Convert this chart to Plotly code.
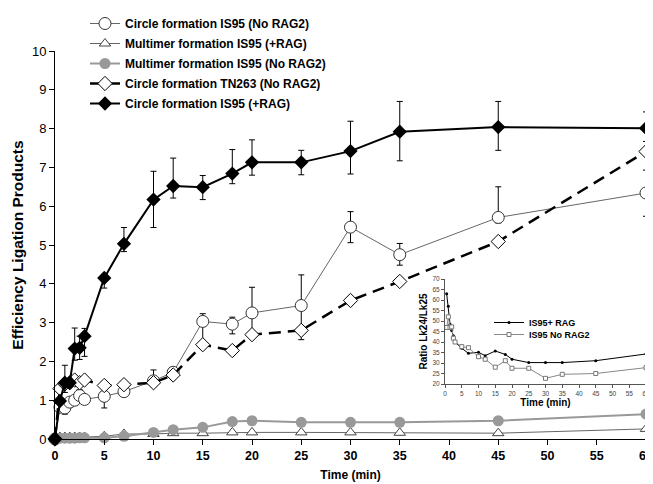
import plotly.graph_objects as go

# ---------------- data ----------------
time_min = [0, 0.5, 1, 1.5, 2, 2.5, 3, 5, 7, 10, 12, 15, 18, 20, 25, 30, 35, 45, 60]

circle_is95_norag = [0, 0.82, 0.80, 0.95, 1.0, 1.12, 1.02, 1.10, 1.22, 1.50, 1.72, 3.03, 2.96, 3.25, 3.44, 5.46, 4.75, 5.71, 6.34]
circle_is95_norag_up = [0, 0.05, 0.05, 0.05, 0.05, 0.15, 0.05, 0.05, 0.05, 0.28, 0.12, 0.20, 0.18, 0.66, 0.79, 0.40, 0.29, 0.79, 0.59]
circle_is95_norag_dn = [0, 0.05, 0.16, 0.05, 0.05, 0.10, 0.05, 0.30, 0.05, 0.15, 0.12, 0.55, 0.25, 0.46, 0.88, 0.40, 0.27, 0.14, 0.60]

multimer_is95_rag = [0, 0.05, 0.05, 0.05, 0.05, 0.05, 0.05, 0.07, 0.13, 0.13, 0.15, 0.15, 0.17, 0.17, 0.17, 0.17, 0.16, 0.15, 0.26]

multimer_is95_norag = [0, 0.02, 0.02, 0.02, 0.02, 0.03, 0.03, 0.03, 0.07, 0.17, 0.24, 0.30, 0.45, 0.47, 0.43, 0.43, 0.43, 0.47, 0.64]

circle_tn263_norag = [0, 1.30, 1.42, 1.45, 1.52, 1.45, 1.52, 1.38, 1.40, 1.45, 1.65, 2.43, 2.28, 2.69, 2.80, 3.57, 4.06, 5.09, 7.41]

circle_is95_rag = [0, 0.98, 1.45, 1.45, 2.33, 2.35, 2.65, 4.15, 5.03, 6.17, 6.52, 6.49, 6.84, 7.13, 7.13, 7.42, 7.92, 8.04, 8.01]
circle_is95_rag_up = [0, 0.05, 0.45, 0.10, 0.53, 0.30, 0.20, 0.08, 0.42, 0.73, 0.72, 0.30, 0.62, 0.58, 0.31, 0.77, 0.78, 0.66, 0.42]
circle_is95_rag_dn = [0, 0.05, 0.25, 0.10, 0.30, 0.30, 0.52, 0.26, 0.20, 0.72, 0.31, 0.32, 0.26, 0.33, 0.32, 0.59, 0.75, 0.60, 0.34]

inset_time = [0.5, 1, 1.5, 2, 2.5, 3, 5, 7, 10, 12, 15, 18, 20, 25, 30, 35, 45, 60]
ratio_is95_rag = [63, 57, 48.5, 45.5, 43, 40, 37, 34.6, 35.1, 33.5, 35.7, 34.1, 31.8, 30.2, 30.2, 30.2, 31.1, 34.3]
ratio_is95_norag = [46.9, 52, 46.9, 47.2, 41.8, 40, 37.8, 37.3, 33, 31.8, 28, 31.1, 27.5, 27.5, 22.7, 24.6, 25, 27.8]

x_ticks = list(range(0, 61, 5))
y_ticks = list(range(0, 11, 1))

FONT = "Liberation Sans, Arial, sans-serif"

# layout geometry (pixels)
W, H = 653, 484
ML, MR, MT, MB = 47, 15, 43, 53
PW, PH = W - ML - MR, H - MT - MB


def px_x(x):
    return (x - ML) / PW


def px_y(y):
    return (H - MB - y) / PH


fig = go.Figure()


def ebar(up, dn):
    return dict(type="data", symmetric=False, array=up, arrayminus=dn,
                color="black", thickness=1, width=3)


fig.add_trace(go.Scatter(
    x=time_min, y=circle_is95_norag, name="Circle formation IS95 (No RAG2)", legend="legend8",
    mode="lines+markers", line=dict(color="#666666", width=1),
    marker=dict(symbol="circle", size=12, color="white", line=dict(color="#333333", width=1)),
    error_y=ebar(circle_is95_norag_up, circle_is95_norag_dn), cliponaxis=False))

fig.add_trace(go.Scatter(
    x=time_min, y=multimer_is95_rag, name="Multimer formation IS95 (+RAG)", legend="legend3",
    mode="lines+markers", line=dict(color="#666666", width=1),
    marker=dict(symbol="triangle-up", size=10, color="white", line=dict(color="#444444", width=1)),
    cliponaxis=False))

fig.add_trace(go.Scatter(
    x=time_min, y=multimer_is95_norag, name="Multimer formation IS95 (No RAG2)", legend="legend4",
    mode="lines+markers", line=dict(color="#999999", width=2),
    marker=dict(symbol="circle", size=11, color="#999999"),
    cliponaxis=False))

fig.add_trace(go.Scatter(
    x=time_min, y=circle_tn263_norag, name="Circle formation TN263 (No RAG2)", legend="legend5",
    mode="lines+markers", line=dict(color="black", width=2.5, dash="12px,7px"),
    marker=dict(symbol="diamond", size=11, color="white", line=dict(color="black", width=1)),
    cliponaxis=False))

fig.add_trace(go.Scatter(
    x=time_min, y=circle_is95_rag, name="Circle formation IS95 (+RAG)", legend="legend6",
    mode="lines+markers", line=dict(color="black", width=2),
    marker=dict(symbol="diamond", size=11, color="black"),
    error_y=ebar(circle_is95_rag_up, circle_is95_rag_dn), cliponaxis=False))

# inset
fig.add_trace(go.Scatter(
    x=inset_time, y=ratio_is95_rag, name="IS95+ RAG", xaxis="x2", yaxis="y2",
    legend="legend2", mode="lines+markers", line=dict(color="black", width=1),
    marker=dict(symbol="circle", size=3, color="black")))
fig.add_trace(go.Scatter(
    x=inset_time, y=ratio_is95_norag, name="IS95 No RAG2", xaxis="x2", yaxis="y2",
    legend="legend7", mode="lines+markers", line=dict(color="#888888", width=1),
    marker=dict(symbol="square", size=4, color="white", line=dict(color="#777777", width=1))))


def main_legend(ytop):
    return dict(x=px_x(77), y=px_y(ytop), xanchor="left", yanchor="top",
                font=dict(size=12, weight="bold"), bgcolor="rgba(0,0,0,0)",
                borderwidth=0)


def inset_legend(ytop):
    return dict(x=px_x(481), y=px_y(ytop), xanchor="left", yanchor="top",
                font=dict(size=9, weight="bold"), bgcolor="rgba(0,0,0,0)",
                borderwidth=0)


fig.update_layout(
    width=W, height=H,
    margin=dict(l=ML, r=MR, t=MT, b=MB, autoexpand=False),
    paper_bgcolor="white", plot_bgcolor="white",
    font=dict(family=FONT, color="black"),
    xaxis=dict(range=[0, 60], tickvals=x_ticks, showline=True, linecolor="black", linewidth=1,
               ticks="outside", ticklen=5, tickcolor="black", showgrid=False, zeroline=False,
               tickfont=dict(size=12.5, family=FONT, weight="bold"), automargin=False,
               title=dict(text="<b>Time (min)</b>", font=dict(size=12), standoff=8)),
    yaxis=dict(range=[0, 10], tickvals=y_ticks, showline=True, linecolor="black", linewidth=1,
               ticks="outside", ticklen=5, tickcolor="black", showgrid=False, zeroline=False,
               tickfont=dict(size=13), automargin=False,
               title=dict(text="<b>Efficiency Ligation Products</b>", font=dict(size=15.5), standoff=4)),
    xaxis2=dict(domain=[px_x(437), 1.0], anchor="y2", range=[0, 60], tickvals=x_ticks,
                showline=True, linecolor="#555555", linewidth=1, ticks="outside", ticklen=3,
                tickcolor="#555555", showgrid=False, zeroline=False, automargin=False,
                tickfont=dict(size=6.5, color="#444444"),
                title=dict(text="<b>Time (min)</b>", font=dict(size=10), standoff=1)),
    yaxis2=dict(domain=[px_y(376), px_y(271)], anchor="x2", range=[20, 70], dtick=5,
                showline=True, linecolor="#555555", linewidth=1, ticks="outside", ticklen=3,
                tickcolor="#555555", showgrid=False, zeroline=False, automargin=False,
                tickfont=dict(size=6.5, color="#444444"),
                title=dict(text="<b>Ratio Lk24/Lk25</b>", font=dict(size=10), standoff=2)),
    legend8=main_legend(1),
    legend3=main_legend(21),
    legend4=main_legend(41),
    legend5=main_legend(61),
    legend6=main_legend(81),
    legend2=inset_legend(300),
    legend7=inset_legend(312),
)

fig.write_html("out.html")
